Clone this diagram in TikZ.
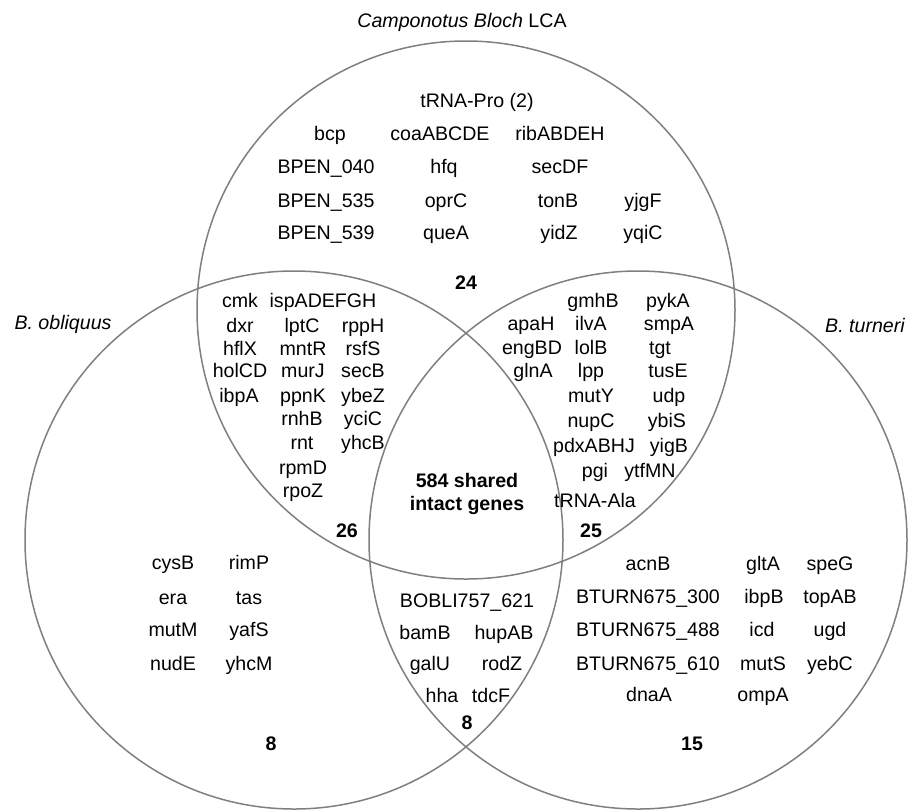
\documentclass[tikz,border=0pt]{standalone}
\usepackage{fontspec}
\setmainfont{Liberation Sans}
\definecolor{vgray}{HTML}{7F7F7F}
\tikzset{
  vc/.style={draw=vgray, line width=0.75pt},
  gene/.style={font=\fontsize{9.8}{11}\selectfont, inner sep=0pt, text height=7pt, text depth=0pt},
  num/.style={gene, font=\fontsize{9.8}{11}\selectfont\bfseries},
  lab/.style={gene, font=\fontsize{9.8}{11}\selectfont\itshape}
}
\begin{document}
\begin{tikzpicture}[x=0.5pt,y=-0.5pt]
\useasboundingbox (0,0) rectangle (911,811);
% circles
\draw[vc] (466,310) circle[radius=134.5pt];
\draw[vc] (294,540) circle[radius=134.5pt];
\draw[vc] (638,540) circle[radius=134.5pt];
% labels
\node[gene] (title) at (462,20) {\textit{Camponotus Bloch} LCA};
\node[lab] (lobl) at (63,322) {B. obliquus};
\node[lab] (ltur) at (865,325) {B. turneri};
% top only
\node[gene] (a1) at (477,100) {tRNA-Pro (2)};
\node[gene] (a2) at (330,133) {bcp};
\node[gene] (a3) at (440,133) {coaABCDE};
\node[gene] (a4) at (560,133) {ribABDEH};
\node[gene] (a5) at (326,166) {BPEN\_040};
\node[gene] (a6) at (444,166) {hfq};
\node[gene] (a7) at (560,166) {secDF};
\node[gene] (a8) at (326,200) {BPEN\_535};
\node[gene] (a9) at (446,200) {oprC};
\node[gene] (a10) at (558,200) {tonB};
\node[gene] (a11) at (643,200) {yjgF};
\node[gene] (a12) at (326,232) {BPEN\_539};
\node[gene] (a13) at (446,232) {queA};
\node[gene] (a14) at (559,232) {yidZ};
\node[gene] (a15) at (643,232) {yqiC};
\node[num] (n24) at (466,282) {24};
% top-left overlap
\node[gene] (b1) at (240,300) {cmk};
\node[gene] (b2) at (323,300) {ispADEFGH};
\node[gene] (b3) at (240,325) {dxr};
\node[gene] (b4) at (302,325) {lptC};
\node[gene] (b5) at (363,325) {rppH};
\node[gene] (b6) at (240,348) {hflX};
\node[gene] (b7) at (303,348) {mntR};
\node[gene] (b8) at (363,348) {rsfS};
\node[gene] (b9) at (240,370) {holCD};
\node[gene] (b10) at (303,370) {murJ};
\node[gene] (b11) at (363,370) {secB};
\node[gene] (b12) at (239,395) {ibpA};
\node[gene] (b13) at (303,395) {ppnK};
\node[gene] (b14) at (363,395) {ybeZ};
\node[gene] (b15) at (302,418) {rnhB};
\node[gene] (b16) at (363,418) {yciC};
\node[gene] (b17) at (302,442) {rnt};
\node[gene] (b18) at (363,442) {yhcB};
\node[gene] (b19) at (303,467) {rpmD};
\node[gene] (b20) at (303,490) {rpoZ};
\node[num] (n26) at (347,530) {26};
% top-right overlap
\node[gene] (c1) at (593,300) {gmhB};
\node[gene] (c2) at (668,300) {pykA};
\node[gene] (c3) at (531,323) {apaH};
\node[gene] (c4) at (591,323) {ilvA};
\node[gene] (c5) at (669,323) {smpA};
\node[gene] (c6) at (532,347) {engBD};
\node[gene] (c7) at (591,347) {lolB};
\node[gene] (c8) at (660,347) {tgt};
\node[gene] (c9) at (533,370) {glnA};
\node[gene] (c10) at (591,370) {lpp};
\node[gene] (c11) at (668,370) {tusE};
\node[gene] (c12) at (591,395) {mutY};
\node[gene] (c13) at (669,395) {udp};
\node[gene] (c14) at (591,420) {nupC};
\node[gene] (c15) at (667,420) {ybiS};
\node[gene] (c16) at (594,445) {pdxABHJ};
\node[gene] (c17) at (669,445) {yigB};
\node[gene] (c18) at (595,470) {pgi};
\node[gene] (c19) at (650,470) {ytfMN};
\node[gene] (c20) at (595,500) {tRNA-Ala};
\node[num] (n25) at (591,530) {25};
% centre
\node[num] (s1) at (467,480) {584 shared};
\node[num] (s2) at (467,503) {intact genes};
% bottom overlap
\node[gene] (d1) at (467,600) {BOBLI757\_621};
\node[gene] (d2) at (425,632) {bamB};
\node[gene] (d3) at (504,632) {hupAB};
\node[gene] (d4) at (430,663) {galU};
\node[gene] (d5) at (502,663) {rodZ};
\node[gene] (d6) at (442,695) {hha};
\node[gene] (d7) at (491,695) {tdcF};
\node[num] (n8b) at (467,722) {8};
% left only
\node[gene] (e1) at (173,562) {cysB};
\node[gene] (e2) at (249,562) {rimP};
\node[gene] (e3) at (173,597) {era};
\node[gene] (e4) at (249,597) {tas};
\node[gene] (e5) at (173,629) {mutM};
\node[gene] (e6) at (249,629) {yafS};
\node[gene] (e7) at (173,663) {nudE};
\node[gene] (e8) at (249,663) {yhcM};
\node[num] (n8a) at (271,743) {8};
% right only
\node[gene] (f1) at (648,563) {acnB};
\node[gene] (f2) at (763,563) {gltA};
\node[gene] (f3) at (830,563) {speG};
\node[gene] (f4) at (648,596) {BTURN675\_300};
\node[gene] (f5) at (764,596) {ibpB};
\node[gene] (f6) at (830,596) {topAB};
\node[gene] (f7) at (648,629) {BTURN675\_488};
\node[gene] (f8) at (762,629) {icd};
\node[gene] (f9) at (830,629) {ugd};
\node[gene] (f10) at (648,663) {BTURN675\_610};
\node[gene] (f11) at (763,663) {mutS};
\node[gene] (f12) at (830,663) {yebC};
\node[gene] (f13) at (649,694) {dnaA};
\node[gene] (f14) at (763,694) {ompA};
\node[num] (n15) at (692,743) {15};
\end{tikzpicture}
\end{document}
